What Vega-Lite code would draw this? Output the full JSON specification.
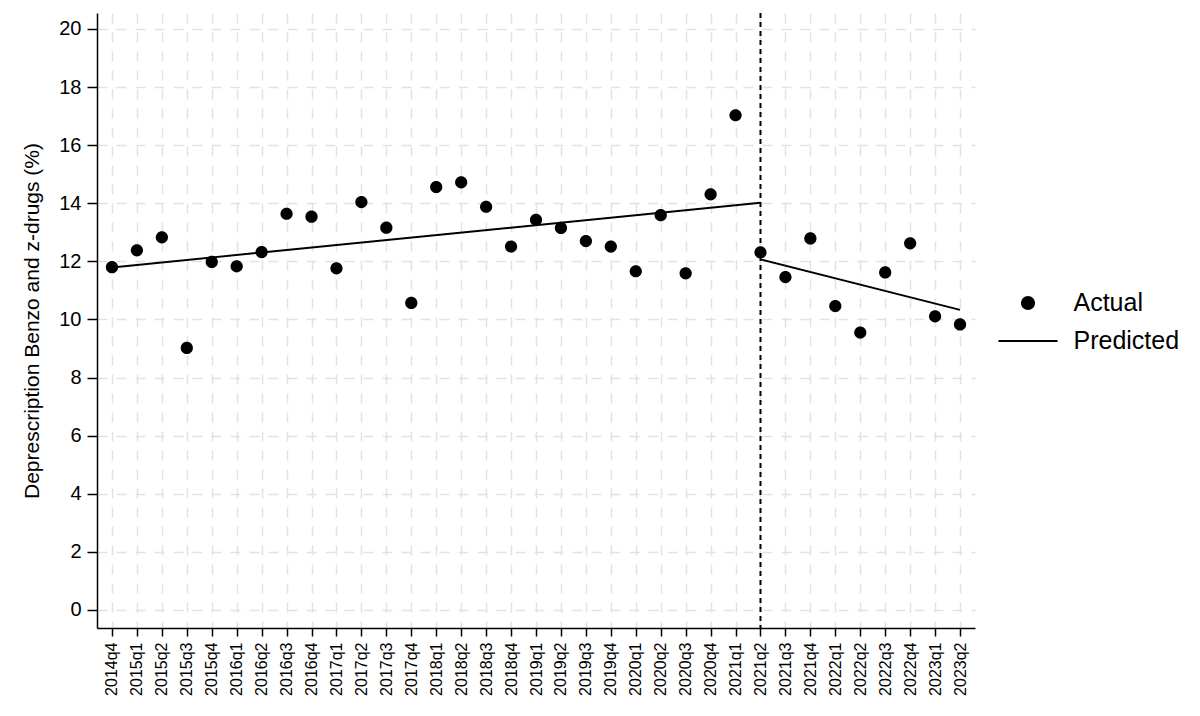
{
  "$schema": "https://vega.github.io/schema/vega-lite/v6.json",
  "width": 878,
  "height": 615,
  "autosize": "none",
  "padding": {"left": 97, "top": 13, "right": 225, "bottom": 88},
  "background": "white",
  "config": {
    "font": "Liberation Sans",
    "view": {"stroke": null},
    "axis": {
      "domainColor": "black", "domainWidth": 1.5,
      "tickColor": "black", "tickWidth": 1.5,
      "labelColor": "black", "titleColor": "black",
      "gridColor": "#e2e2e2", "gridWidth": 1.5, "gridDash": [10, 9]
    },
    "legend": {
      "orient": "none", "legendX": 911.5, "legendY": 270.5,
      "padding": 0, "rowPadding": 5, "symbolSize": 1369, "labelOffset": 26,
      "labelFontSize": 25, "labelColor": "black",
      "symbolStrokeColor": "black", "symbolStrokeWidth": 2, "symbolFillColor": "black"
    }
  },
  "datasets": {
    "main": [
      {"quarter": "2014q4", "value": 11.80, "series": "Actual"},
      {"quarter": "2015q1", "value": 12.38, "series": "Actual"},
      {"quarter": "2015q2", "value": 12.83, "series": "Actual"},
      {"quarter": "2015q3", "value": 9.02, "series": "Actual"},
      {"quarter": "2015q4", "value": 11.98, "series": "Actual"},
      {"quarter": "2016q1", "value": 11.83, "series": "Actual"},
      {"quarter": "2016q2", "value": 12.32, "series": "Actual"},
      {"quarter": "2016q3", "value": 13.64, "series": "Actual"},
      {"quarter": "2016q4", "value": 13.54, "series": "Actual"},
      {"quarter": "2017q1", "value": 11.76, "series": "Actual"},
      {"quarter": "2017q2", "value": 14.04, "series": "Actual"},
      {"quarter": "2017q3", "value": 13.16, "series": "Actual"},
      {"quarter": "2017q4", "value": 10.57, "series": "Actual"},
      {"quarter": "2018q1", "value": 14.56, "series": "Actual"},
      {"quarter": "2018q2", "value": 14.72, "series": "Actual"},
      {"quarter": "2018q3", "value": 13.88, "series": "Actual"},
      {"quarter": "2018q4", "value": 12.51, "series": "Actual"},
      {"quarter": "2019q1", "value": 13.43, "series": "Actual"},
      {"quarter": "2019q2", "value": 13.15, "series": "Actual"},
      {"quarter": "2019q3", "value": 12.70, "series": "Actual"},
      {"quarter": "2019q4", "value": 12.51, "series": "Actual"},
      {"quarter": "2020q1", "value": 11.66, "series": "Actual"},
      {"quarter": "2020q2", "value": 13.59, "series": "Actual"},
      {"quarter": "2020q3", "value": 11.59, "series": "Actual"},
      {"quarter": "2020q4", "value": 14.31, "series": "Actual"},
      {"quarter": "2021q1", "value": 17.03, "series": "Actual"},
      {"quarter": "2021q2", "value": 12.31, "series": "Actual"},
      {"quarter": "2021q3", "value": 11.46, "series": "Actual"},
      {"quarter": "2021q4", "value": 12.79, "series": "Actual"},
      {"quarter": "2022q1", "value": 10.46, "series": "Actual"},
      {"quarter": "2022q2", "value": 9.55, "series": "Actual"},
      {"quarter": "2022q3", "value": 11.62, "series": "Actual"},
      {"quarter": "2022q4", "value": 12.62, "series": "Actual"},
      {"quarter": "2023q1", "value": 10.11, "series": "Actual"},
      {"quarter": "2023q2", "value": 9.83, "series": "Actual"},
      {"quarter": "2014q4", "value": 11.79, "series": "Predicted", "segment": "pre"},
      {"quarter": "2021q2", "value": 14.02, "series": "Predicted", "segment": "pre"},
      {"quarter": "2021q2", "value": 12.07, "series": "Predicted", "segment": "post"},
      {"quarter": "2023q2", "value": 10.33, "series": "Predicted", "segment": "post"}
    ],
    "cut": [{"quarter": "2021q2"}]
  },
  "layer": [
    {
      "data": {"name": "main"},
      "transform": [{"filter": "datum.series === 'Predicted'"}],
      "mark": {"type": "line", "strokeWidth": 2},
      "encoding": {
        "x": {
          "field": "quarter", "type": "ordinal",
          "scale": {"type": "point", "padding": 0.6},
          "axis": {
            "title": null, "labelAngle": -90, "labelFontSize": 16,
            "tickSize": 8, "labelPadding": 6, "grid": true
          }
        },
        "y": {
          "field": "value", "type": "quantitative",
          "scale": {"domain": [-0.62, 20.55], "nice": false, "zero": false},
          "axis": {
            "title": "Deprescription Benzo and z-drugs (%)",
            "titleFontSize": 21, "titleFontWeight": "normal", "titlePadding": 16,
            "values": [0, 2, 4, 6, 8, 10, 12, 14, 16, 18, 20],
            "labelFontSize": 20, "tickSize": 10, "labelPadding": 6, "grid": true
          }
        },
        "detail": {"field": "segment", "type": "nominal"},
        "color": {
          "field": "series", "type": "nominal",
          "scale": {"domain": ["Actual", "Predicted"], "range": ["black", "black"]},
          "legend": {"title": null}
        }
      }
    },
    {
      "data": {"name": "main"},
      "transform": [{"filter": "datum.series === 'Actual'"}],
      "mark": {"type": "point", "filled": true, "size": 1369, "opacity": 1, "strokeWidth": 0},
      "encoding": {
        "x": {"field": "quarter", "type": "ordinal"},
        "y": {"field": "value", "type": "quantitative"},
        "color": {"field": "series", "type": "nominal", "legend": {"title": null}},
        "shape": {
          "field": "series", "type": "nominal",
          "scale": {
            "domain": ["Actual", "Predicted"],
            "range": ["M-0.33,0A0.33,0.33,0,1,1,0.33,0A0.33,0.33,0,1,1,-0.33,0Z", "M-1.6,0L1.6,0"]
          },
          "legend": {"title": null}
        }
      }
    },
    {
      "data": {"name": "cut"},
      "mark": {"type": "rule", "strokeDash": [5, 4], "strokeWidth": 2, "color": "black"},
      "encoding": {
        "x": {"field": "quarter", "type": "ordinal"}
      }
    }
  ]
}
